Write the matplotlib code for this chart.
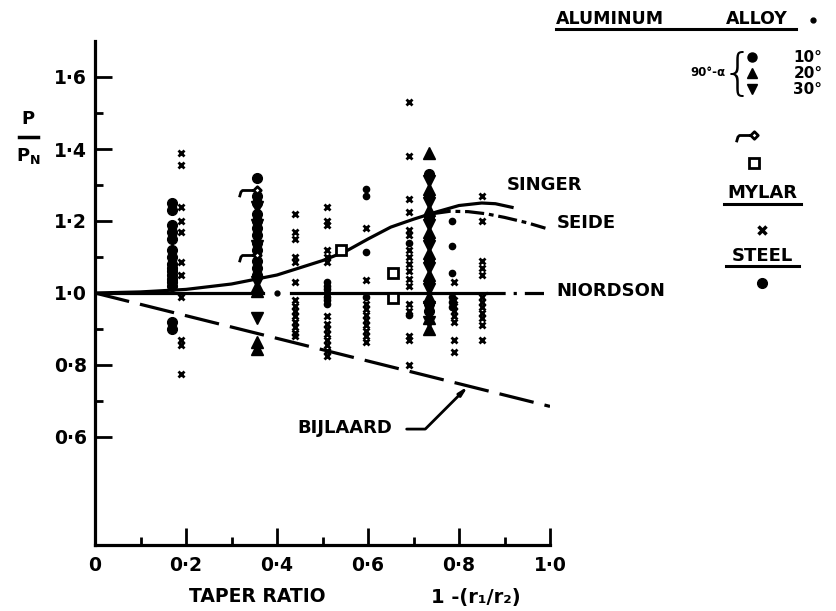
import matplotlib
matplotlib.use('Agg')
import matplotlib.pyplot as plt
from matplotlib.path import Path
from matplotlib.lines import Line2D

plt.rcParams['font.family'] = ['DejaVu Sans']
plt.rcParams['font.weight'] = 'bold'
plt.rcParams['mathtext.fontset'] = 'dejavusans'

# ---------------- data ----------------
x_ticks = [0.0, 0.2, 0.4, 0.6, 0.8, 1.0]
x_tick_labels = ['0', '0·2', '0·4', '0·6', '0·8', '1·0']
y_ticks = [0.6, 0.8, 1.0, 1.2, 1.4, 1.6]
y_tick_labels = ['0·6', '0·8', '1·0', '1·2', '1·4', '1·6']

# theories
singer_x = [0.0, 0.1, 0.2, 0.3, 0.4, 0.5, 0.55, 0.6, 0.65, 0.7, 0.75, 0.8, 0.85, 0.88, 0.92]
singer_y = [1.0, 1.003, 1.01, 1.025, 1.05, 1.09, 1.115, 1.15, 1.183, 1.205, 1.225, 1.243, 1.25, 1.248, 1.237]
seide_x = [0.74, 0.78, 0.82, 0.86, 0.90, 0.95, 0.99]
seide_y = [1.22, 1.227, 1.226, 1.22, 1.21, 1.195, 1.18]
niordson_x = [0.0, 0.37, 0.43, 0.86, 0.99]
niordson_y = [1.0, 1.0, 1.0, 1.0, 1.0]
bijlaard_x = [0.0, 1.0]
bijlaard_y = [1.0, 0.685]

# aluminium alloy, 90-alpha = 10 deg (circles)
al10_x = [0.17]*16 + [0.356]*12 + [0.735]*8
al10_y = [1.25, 1.23, 1.19, 1.17, 1.15, 1.12, 1.10, 1.08, 1.07, 1.06, 1.05, 1.04, 1.03, 1.02, 0.92, 0.90,
          1.32, 1.27, 1.25, 1.22, 1.20, 1.18, 1.16, 1.14, 1.12, 1.09, 1.07, 1.05,
          1.33, 1.27, 1.21, 1.15, 1.09, 1.03, 0.97, 0.95]
# 20 deg (up triangles)
al20_x = [0.356]*4 + [0.735]*9
al20_y = [1.02, 1.005, 0.865, 0.845,
          1.39, 1.29, 1.23, 1.17, 1.11, 1.05, 0.99, 0.93, 0.90]
# 30 deg (down triangles)
al30_x = [0.356]*5 + [0.735]*8
al30_y = [0.93, 1.24, 1.19, 1.13, 1.03,
          1.31, 1.25, 1.19, 1.13, 1.07, 1.01, 0.96, 0.92]
# special aluminium points (flag symbol) and squares
flag_x = [0.356, 0.356]
flag_y = [1.286, 1.105]
square_x = [0.54, 0.655, 0.655]
square_y = [1.12, 1.056, 0.986]

# mylar (crosses)
mylar_x = ([0.19]*11 + [0.44]*14 + [0.51]*14 + [0.595]*10 + [0.69]*17 + [0.79]*8 + [0.85]*12)
mylar_y = ([1.39, 1.355, 1.24, 1.20, 1.17, 1.085, 1.05, 0.99, 0.87, 0.855, 0.775] +
           [1.22, 1.17, 1.15, 1.10, 1.085, 1.03, 0.98, 0.965, 0.95, 0.935, 0.92, 0.905, 0.89, 0.88] +
           [1.24, 1.20, 1.19, 1.12, 1.10, 1.085, 0.935, 0.915, 0.90, 0.885, 0.87, 0.855, 0.84, 0.825] +
           [1.18, 1.035, 0.97, 0.955, 0.94, 0.925, 0.91, 0.895, 0.88, 0.865] +
           [1.53, 1.38, 1.26, 1.225, 1.175, 1.16, 1.12, 1.10, 1.08, 1.06, 1.04, 1.02, 0.97, 0.95, 0.88, 0.87, 0.80] +
           [1.03, 0.98, 0.965, 0.95, 0.935, 0.92, 0.87, 0.835] +
           [1.27, 1.20, 1.09, 1.07, 1.05, 0.99, 0.975, 0.96, 0.945, 0.93, 0.91, 0.87])

# steel (dots)
steel_x = [0.51]*7 + [0.595]*4 + [0.69]*2 + [0.785]*6
steel_y = ([1.03, 1.02, 1.01, 1.0, 0.99, 0.98, 0.97] + [1.29, 1.27, 1.115, 0.99] + [1.14, 0.94] +
           [1.20, 1.13, 1.055, 0.99, 0.975, 0.96])

# ---------------- figure ----------------
W, H = 836, 611
fig = plt.figure(figsize=(W/100, H/100), dpi=100)
ax = fig.add_axes([95/W, 1-545/H, 455/W, 504/H])
ax.set_xlim(0, 1.0)
ax.set_ylim(0.3, 1.7)

def fx(x):
    return x / W

def fy(y):
    return 1 - y / H

K = 'black'
LW = 2.3

# spines
for s in ['top', 'right']:
    ax.spines[s].set_visible(False)
ax.spines['left'].set_linewidth(LW)
ax.spines['bottom'].set_linewidth(LW)
ax.spines['bottom'].set_bounds(0, 1.0)
ax.spines['left'].set_bounds(0.3, 1.7)

ax.set_xticks(x_ticks)
ax.set_xticklabels(x_tick_labels)
ax.set_xticks([0.1, 0.3, 0.5, 0.7, 0.9], minor=True)
ax.set_yticks(y_ticks)
ax.set_yticklabels(y_tick_labels)
ax.set_yticks([0.7, 0.9, 1.1, 1.3, 1.5], minor=True)
ax.tick_params(which='major', direction='in', length=12, width=2, labelsize=13.5, pad=6)
ax.tick_params(which='minor', direction='in', length=6, width=2)
ax.tick_params(axis='x', which='major', pad=8)
for lab in ax.get_xticklabels() + ax.get_yticklabels():
    lab.set_fontweight('bold')

# theory curves
ax.plot(singer_x, singer_y, color=K, lw=LW, solid_capstyle='butt')
ax.plot(seide_x, seide_y, color=K, lw=LW, dashes=(6, 1.5, 1.5, 1.5))
ax.plot(niordson_x[0:2], niordson_y[0:2], color=K, lw=LW)
ax.plot(niordson_x[2:4], niordson_y[2:4], color=K, lw=LW)
ax.plot(niordson_x[3:5], niordson_y[3:5], color=K, lw=LW, dashes=(6, 2.5, 1, 2.5))
ax.plot([(niordson_x[1] + niordson_x[2]) / 2], [niordson_y[1]], 'o', color=K, ms=3.5)
ax.plot(bijlaard_x, bijlaard_y, color=K, lw=LW, dashes=(11, 3.5))

# flag marker path (tail + diamond)
flag_verts = [(-2.4, -0.9), (-2.2, -0.2), (-2.0, 0.0), (-0.5, 0.0),
              (-0.5, 0.0), (0.0, 0.5), (0.5, 0.0), (0.0, -0.5), (-0.5, 0.0)]
flag_codes = [Path.MOVETO, Path.LINETO, Path.LINETO, Path.LINETO,
              Path.MOVETO, Path.LINETO, Path.LINETO, Path.LINETO, Path.CLOSEPOLY]
flag_marker = Path(flag_verts, flag_codes)

# data points
ax.plot(al10_x, al10_y, 'o', color=K, ms=7, ls='none')
ax.plot(al20_x, al20_y, '^', color=K, ms=8, ls='none')
ax.plot(al30_x, al30_y, 'v', color=K, ms=8, ls='none')
ax.plot(flag_x, flag_y, ls='none', marker=flag_marker, ms=26, mfc='white', mec=K, mew=2)
ax.plot(square_x, square_y, 's', ls='none', ms=7, mfc='white', mec=K, mew=2)
ax.plot(mylar_x, mylar_y, 'x', ls='none', color=K, ms=4.5, mew=2)
ax.plot(steel_x, steel_y, 'o', ls='none', color=K, ms=4.5)

# curve labels
ax.text(0.905, 1.30, 'SINGER', fontsize=13, fontweight='bold', va='center', ha='left', clip_on=False)
ax.text(1.015, 1.195, 'SEIDE', fontsize=13, fontweight='bold', va='center', ha='left', clip_on=False)
ax.text(1.013, 1.005, 'NIORDSON', fontsize=13, fontweight='bold', va='center', ha='left', clip_on=False)
ax.text(0.445, 0.625, 'BIJLAARD', fontsize=13, fontweight='bold', va='center', ha='left', clip_on=False)
ax.annotate('', xy=(0.82, 0.741), xytext=(0.685, 0.622),
            arrowprops=dict(arrowstyle='-|>,head_length=0.5,head_width=0.12', color=K, lw=2,
                            connectionstyle='angle,angleA=0,angleB=45,rad=0',
                            shrinkA=0, shrinkB=0))

# axis labels
fig.text(fx(257), fy(597), 'TAPER RATIO', fontsize=13.5, fontweight='bold', ha='center', va='center')
fig.text(fx(476), fy(597), '1 -(r\u2081/r\u2082)', fontsize=14, fontweight='bold', ha='center', va='center')
fig.text(fx(28), fy(119), 'P', fontsize=13, fontweight='bold', ha='center', va='center')
fig.add_artist(Line2D([fx(19), fx(38)], [fy(137), fy(137)], color=K, lw=2.5))
fig.text(fx(28), fy(156), r'$\mathbf{P}_{\mathbf{N}}$', fontsize=13, ha='center', va='center')

# legend block (right)
def ftext(x, y, s, size=12, ha='center', weight='bold', **kw):
    fig.text(fx(x), fy(y), s, fontsize=size, fontweight=weight, ha=ha, va='center', **kw)

def uline(x0, x1, y):
    fig.add_artist(Line2D([fx(x0), fx(x1)], [fy(y), fy(y)], color=K, lw=2.2))

def fmark(x, y, **kw):
    fig.add_artist(Line2D([fx(x)], [fy(y)], ls='none', color=K, **kw))

ftext(610, 19, 'ALUMINUM', size=12.5)
ftext(757, 19, 'ALLOY', size=12.5)
fmark(813, 20, marker='o', ms=3.5)
uline(556, 796, 29)
ftext(708, 72, '90\u00b0-\u03b1', size=8.5)
ftext(738, 75, '{', size=36, weight='light')
fmark(752, 57, marker='o', ms=6.5)
fmark(752, 73, marker='^', ms=7.5)
fmark(752, 89, marker='v', ms=7.5)
ftext(808, 57, '10\u00b0', size=11)
ftext(808, 73, '20\u00b0', size=11)
ftext(808, 90, '30\u00b0', size=11)
fmark(754, 135, marker=flag_marker, ms=26, mfc='white', mec=K, mew=2)
fmark(754, 163, marker='s', ms=7, mfc='white', mec=K, mew=2)
ftext(762, 193, 'MYLAR', size=13)
uline(724, 801, 204)
fmark(762, 230, marker='x', ms=6, mew=2.5)
ftext(762, 256, 'STEEL', size=13)
uline(726, 799, 266)
fmark(762, 283, marker='o', ms=7)

fig.savefig('out.png', dpi=100)
